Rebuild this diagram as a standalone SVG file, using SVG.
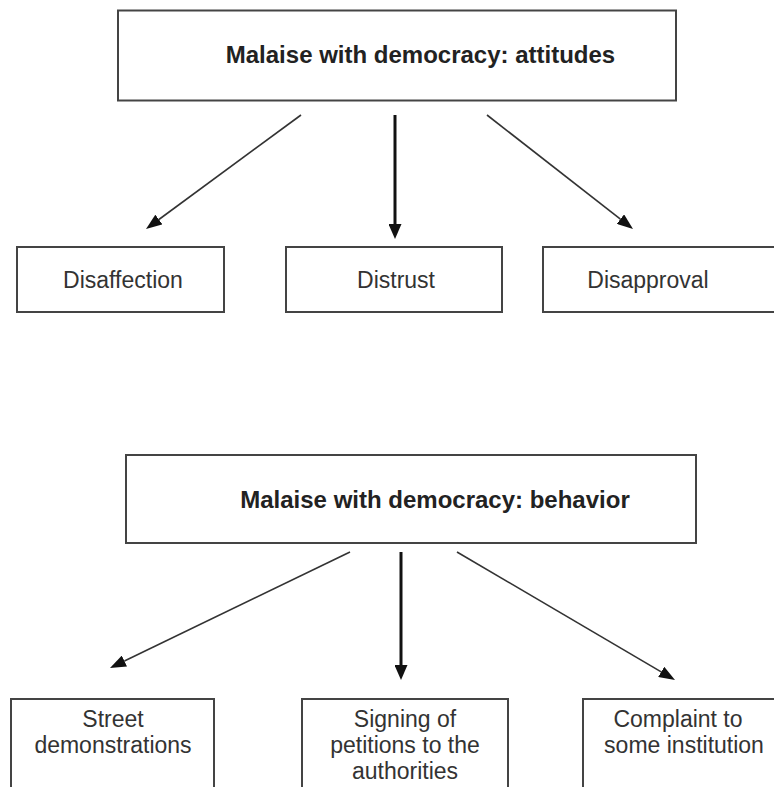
<svg xmlns="http://www.w3.org/2000/svg" width="774" height="787" viewBox="0 0 774 787">
<style>
.box{fill:#fff;stroke:#444;stroke-width:2}
.title{font-family:"Liberation Sans",Arial,sans-serif;font-weight:bold;font-size:24px;fill:#222;text-anchor:middle}
.lbl{font-family:"Liberation Sans",Arial,sans-serif;font-size:23px;fill:#333;text-anchor:middle}
.thin{stroke:#333;stroke-width:1.6;fill:none}
.thick{stroke:#111;stroke-width:3;fill:none}
</style>
<defs>
<marker id="ah" viewBox="0 0 16 12" refX="0" refY="6" markerWidth="16" markerHeight="12" orient="auto" markerUnits="userSpaceOnUse"><path d="M0,0 L16,6 L0,12 z" fill="#111"/></marker>
<marker id="ahv" viewBox="0 0 15 13" refX="0" refY="6.5" markerWidth="15" markerHeight="13" orient="auto" markerUnits="userSpaceOnUse"><path d="M0,0 L15,6.5 L0,13 z" fill="#111"/></marker>
</defs>
<rect width="774" height="787" fill="#fff"/>
<g id="attitudes">
<rect class="box" x="118" y="10.5" width="558" height="90"/>
<text class="title" x="420.5" y="63">Malaise with democracy: attitudes</text>
</g>
<g id="disaffection">
<rect class="box" x="17" y="247" width="207" height="65"/>
<text class="lbl" x="123" y="288">Disaffection</text>
</g>
<g id="distrust">
<rect class="box" x="286" y="247" width="216" height="65"/>
<text class="lbl" x="396" y="288">Distrust</text>
</g>
<g id="disapproval">
<rect class="box" x="543" y="247" width="240" height="65"/>
<text class="lbl" x="648" y="288">Disapproval</text>
</g>
<g id="behavior">
<rect class="box" x="126" y="455" width="570" height="88"/>
<text class="title" x="435" y="508">Malaise with democracy: behavior</text>
</g>
<g id="street">
<rect class="box" x="11" y="699" width="203" height="100"/>
<text class="lbl" x="113" y="727">Street</text>
<text class="lbl" x="113" y="753">demonstrations</text>
</g>
<g id="signing">
<rect class="box" x="302" y="699" width="206" height="100"/>
<text class="lbl" x="405" y="727">Signing of</text>
<text class="lbl" x="405" y="753">petitions to the</text>
<text class="lbl" x="405" y="779">authorities</text>
</g>
<g id="complaint">
<rect class="box" x="583" y="699" width="220" height="100"/>
<text class="lbl" x="678" y="727">Complaint to</text>
<text class="lbl" x="684" y="753">some institution</text>
</g>
<g id="connectors">
<line class="thin" x1="301" y1="115" x2="158.9" y2="219.5" marker-end="url(#ah)"/>
<line class="thick" x1="395" y1="115" x2="395" y2="224" marker-end="url(#ahv)"/>
<line class="thin" x1="487" y1="115" x2="620.4" y2="219.1" marker-end="url(#ah)"/>
<line class="thin" x1="350" y1="552" x2="124.4" y2="661" marker-end="url(#ah)"/>
<line class="thick" x1="401" y1="552" x2="401" y2="665" marker-end="url(#ahv)"/>
<line class="thin" x1="457" y1="552" x2="661.2" y2="671.9" marker-end="url(#ah)"/>
</g>
</svg>
